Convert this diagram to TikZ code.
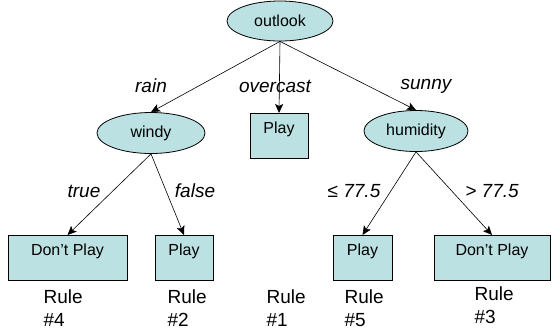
\documentclass[tikz,border=0pt]{standalone}
\usepackage{fontspec}
\setmainfont{Liberation Sans}
\usetikzlibrary{arrows.meta,shapes.geometric}
\definecolor{nodefill}{RGB}{188,225,227}
\begin{document}
\begin{tikzpicture}[x=1pt,y=-1pt,
  ell/.style={ellipse,draw=black,fill=nodefill,line width=0.8pt,inner sep=0pt,font=\fontsize{16}{19}\selectfont},
  leaf/.style={rectangle,draw=black,fill=nodefill,line width=0.8pt,inner xsep=0pt,inner ysep=0pt,
     text height=20pt,text depth=25pt,font=\fontsize{16}{19}\selectfont},
  conn/.style={draw=black,line width=0.6pt,-{Stealth[length=9pt,width=8pt,inset=2pt]}},
  elab/.style={font=\fontsize{19}{23}\selectfont\itshape},
  rulelab/.style={anchor=west,align=left,font=\fontsize{19}{23}\selectfont}]
\useasboundingbox (0,0) rectangle (556,330);
% inner nodes
\node[ell,minimum width=106pt,minimum height=40pt] (outlook) at (280,21) {outlook};
\node[ell,minimum width=108pt,minimum height=41pt] (windy) at (151,133) {windy};
\node[ell,minimum width=104pt,minimum height=41pt] (humidity) at (416,131) {humidity};
% leaves
\node[leaf,minimum width=58pt,anchor=north] (play0) at (279,113) {Play};
\node[leaf,minimum width=119pt,anchor=north] (dp1) at (67.5,235) {Don't Play};
\node[leaf,minimum width=58pt,anchor=north] (play1) at (184,235) {Play};
\node[leaf,minimum width=59pt,anchor=north] (play2) at (362.5,235) {Play};
\node[leaf,minimum width=116pt,anchor=north] (dp2) at (492,235) {Don't Play};
% connectors
\draw[conn] (outlook.south) -- (windy.north);
\draw[conn] (outlook.south) -- (play0.north);
\draw[conn] (outlook.south) -- (humidity.north);
\draw[conn] (windy.south) -- (dp1.north);
\draw[conn] (windy.south) -- (play1.north);
\draw[conn] (humidity.south) -- (play2.north);
\draw[conn] (humidity.south) -- (dp2.north);
% edge labels
\node[elab] (lrain) at (151,86) {rain};
\node[elab] (lover) at (275,86) {overcast};
\node[elab] (lsunny) at (426,86) {sunny};
\node[elab] (ltrue) at (84,191) {true};
\node[elab] (lfalse) at (195,191) {false};
\node[elab] (lle) at (354,191) {≤ 77.5};
\node[elab] (lgt) at (492,191) {> 77.5};
% rule labels
\node[rulelab] (r4) at (40,308) {Rule\\\#4};
\node[rulelab] (r2) at (164,308) {Rule\\\#2};
\node[rulelab] (r1) at (263,308) {Rule\\\#1};
\node[rulelab] (r5) at (341,308) {Rule\\\#5};
\node[rulelab] (r3) at (471,305) {Rule\\\#3};
\end{tikzpicture}
\end{document}
